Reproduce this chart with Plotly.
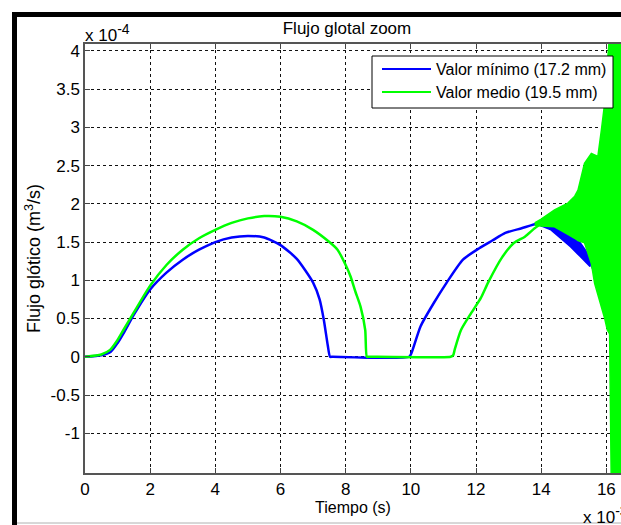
import plotly.graph_objects as go

# ---------------- data (time in 1e-3 s, flow in 1e-4 m^3/s) ----------------
t_min = [0, 0.5, 0.8, 1.0, 1.2, 1.5, 2.0, 2.5, 3.0, 3.5, 4.0, 4.5, 5.0, 5.5, 6.0,
         6.5, 7.0, 7.2, 7.33, 7.45, 7.52, 7.6, 9.95, 10.02, 10.3, 10.7, 11.1, 11.6,
         12.1, 12.5, 12.9, 13.4, 13.9, 14.3, 14.9, 15.2, 15.5, 15.8, 16.0, 16.2, 16.25]
q_min = [0, 0.02, 0.07, 0.18, 0.32, 0.55, 0.88, 1.1, 1.27, 1.4, 1.5, 1.56, 1.58, 1.56, 1.46,
         1.28, 0.97, 0.75, 0.48, 0.15, 0, 0, 0, 0.05, 0.4, 0.7, 0.97, 1.27,
         1.42, 1.52, 1.62, 1.68, 1.74, 1.68, 1.5, 1.4, 1.24, 0.9, 0.6, 0.4, 0.3]

# blue oscillation band (after ~14 ms)
t_min_band = [13.9, 14.3, 14.9, 15.2, 15.5]
q_min_up = [1.75, 1.72, 1.57, 1.49, 1.31]
q_min_lo = [1.73, 1.66, 1.44, 1.31, 1.18]

t_med = [0, 0.5, 0.77, 1.0, 1.18, 1.5, 2.0, 2.5, 3.0, 3.5, 4.0, 4.5, 5.0, 5.5, 6.0,
         6.5, 7.0, 7.5, 7.75, 8.0, 8.15, 8.3, 8.46, 8.6, 8.65, 8.72, 11.22, 11.3, 11.35, 11.54,
         11.85, 12.15, 12.37, 12.8, 13.17, 13.5, 13.8, 14.0]
q_med = [0, 0.03, 0.09, 0.22, 0.35, 0.58, 0.93, 1.2, 1.4, 1.55, 1.66, 1.75, 1.81, 1.84, 1.83,
         1.77, 1.66, 1.5, 1.4, 1.2, 1.05, 0.85, 0.65, 0.35, 0, 0, 0, 0.02, 0.1, 0.35,
         0.57, 0.77, 0.97, 1.3, 1.49, 1.57, 1.68, 1.74]

# green oscillation envelope (after ~14 ms)
t_med_band = [13.8, 14.0, 14.41, 14.82, 15.03, 15.13, 15.33, 15.54, 15.64, 15.74, 15.85,
              15.95, 16.03, 16.1, 16.15, 16.45]
q_med_up = [1.75, 1.8, 1.92, 2.01, 2.1, 2.18, 2.53, 2.66, 2.64, 2.62, 2.97,
            3.32, 3.84, 4.2, 4.2, 4.2]
q_med_lo = [1.72, 1.71, 1.70, 1.6, 1.55, 1.52, 1.49, 1.22, 0.96, 0.82, 0.66,
            0.5, 0.35, 0.3, -1.6, -1.6]

x_ticks = [0, 2, 4, 6, 8, 10, 12, 14, 16]
x_labels = ["0", "2", "4", "6", "8", "10", "12", "14", "16"]
y_ticks = [-1, -0.5, 0, 0.5, 1, 1.5, 2, 2.5, 3, 3.5, 4]
y_labels = ["-1", "-0.5", "0", "0.5", "1", "1.5", "2", "2.5", "3", "3.5", "4"]

names = ["Valor mínimo (17.2 mm)", "Valor medio (19.5 mm)"]
BLUE = "#0000FF"
GREEN = "#00FF00"
colors = [BLUE, GREEN]

# ---------------- layout geometry ----------------
W, H = 621, 525
L, R, T, B = 85, 0, 44, 52
PW, PH = W - L - R, H - T - B


def px(x):
    return (x - L) / PW


def py(y):
    return (H - B - y) / PH


FONT = "Liberation Sans, Arial, sans-serif"

fig = go.Figure()
fig.add_trace(go.Scatter(x=t_min, y=q_min, mode="lines", name=names[0],
                         line=dict(color=BLUE, width=2.5, shape="spline", smoothing=0.6),
                         showlegend=False))
fig.add_trace(go.Scatter(x=t_min_band + t_min_band[::-1], y=q_min_up + q_min_lo[::-1],
                         mode="lines", fill="toself", fillcolor=BLUE,
                         line=dict(color=BLUE, width=1.5), showlegend=False,
                         hoverinfo="skip"))
fig.add_trace(go.Scatter(x=t_med, y=q_med, mode="lines", name=names[1],
                         line=dict(color=GREEN, width=2.5, shape="spline", smoothing=0.6),
                         showlegend=False))
fig.add_trace(go.Scatter(x=t_med_band + t_med_band[::-1], y=q_med_up + q_med_lo[::-1],
                         mode="lines", fill="toself", fillcolor=GREEN,
                         line=dict(color=GREEN, width=1.5), showlegend=False,
                         hoverinfo="skip"))

axis_common = dict(
    showline=True, linecolor="#555555", linewidth=1.5,
    ticks="inside", ticklen=5, tickcolor="#444444", tickwidth=1,
    showgrid=True, gridcolor="#111111", gridwidth=1, griddash="3px,3px",
    zeroline=False, tickfont=dict(family=FONT, size=17, color="#000000"),
)

fig.update_layout(
    width=W, height=H,
    margin=dict(l=L, r=R, t=T, b=B, autoexpand=False),
    paper_bgcolor="white", plot_bgcolor="white",
    font=dict(family=FONT, size=16, color="#000000"),
    title=dict(text="Flujo glotal zoom", x=347 / W, xref="container", xanchor="center",
               y=1 - 28 / H, yref="container", yanchor="middle",
               font=dict(family=FONT, size=17, color="#000000")),
    xaxis=dict(range=[0, 16.45], tickvals=x_ticks, ticktext=x_labels, mirror="ticks",
               title=dict(text="Tiempo (s)", standoff=3, font=dict(family=FONT, size=16)),
               **axis_common),
    yaxis=dict(range=[-1.52, 4.09], tickvals=y_ticks, ticktext=y_labels, mirror=False,
               title=dict(text="Flujo glótico (m<sup>3</sup>/s)", standoff=5,
                          font=dict(family=FONT, size=18)),
               **axis_common),
    showlegend=False,
)

# ---------------- legend box (drawn like the MATLAB legend) ----------------
LEG_X0, LEG_X1, LEG_Y0, LEG_Y1 = 372, 613, 56, 108
LEG_ROWS = [69, 92]
fig.add_shape(type="rect", xref="paper", yref="paper", x0=px(LEG_X0), x1=px(LEG_X1),
              y0=py(LEG_Y1), y1=py(LEG_Y0), fillcolor="white",
              line=dict(color="black", width=1), layer="above")
for name, col, row in zip(names, colors, LEG_ROWS):
    fig.add_shape(type="line", xref="paper", yref="paper", x0=px(382), x1=px(431),
                  y0=py(row), y1=py(row), line=dict(color=col, width=2), layer="above")
    fig.add_annotation(text=name, xref="paper", yref="paper", x=px(434), y=py(row),
                       xanchor="left", yanchor="middle", showarrow=False,
                       font=dict(family=FONT, size=16, color="#000000"))

fig.add_annotation(text="x 10<sup><span style='font-size:14px'>-4</span></sup>",
                   xref="paper", yref="paper",
                   x=px(83), y=py(33), xanchor="left", yanchor="middle",
                   showarrow=False, font=dict(family=FONT, size=17, color="#000000"))
fig.add_annotation(text="x 10<sup><span style='font-size:14px'>-3</span></sup>",
                   xref="paper", yref="paper",
                   x=px(581), y=py(515), xanchor="left", yanchor="middle",
                   showarrow=False, font=dict(family=FONT, size=17, color="#000000"))

# screenshot frame (black left/top border, grey bottom line)
fig.add_shape(type="rect", xref="paper", yref="paper", x0=px(12), x1=px(17),
              y0=py(12), y1=py(525), fillcolor="black", line=dict(width=0), layer="above")
fig.add_shape(type="rect", xref="paper", yref="paper", x0=px(12), x1=px(621),
              y0=py(12), y1=py(17), fillcolor="black", line=dict(width=0), layer="above")
fig.add_shape(type="line", xref="paper", yref="paper", x0=px(17), x1=px(621),
              y0=py(523), y1=py(523), line=dict(color="#b0b0b0", width=1), layer="above")

fig.write_html("out.html", config={"displayModeBar": False})
